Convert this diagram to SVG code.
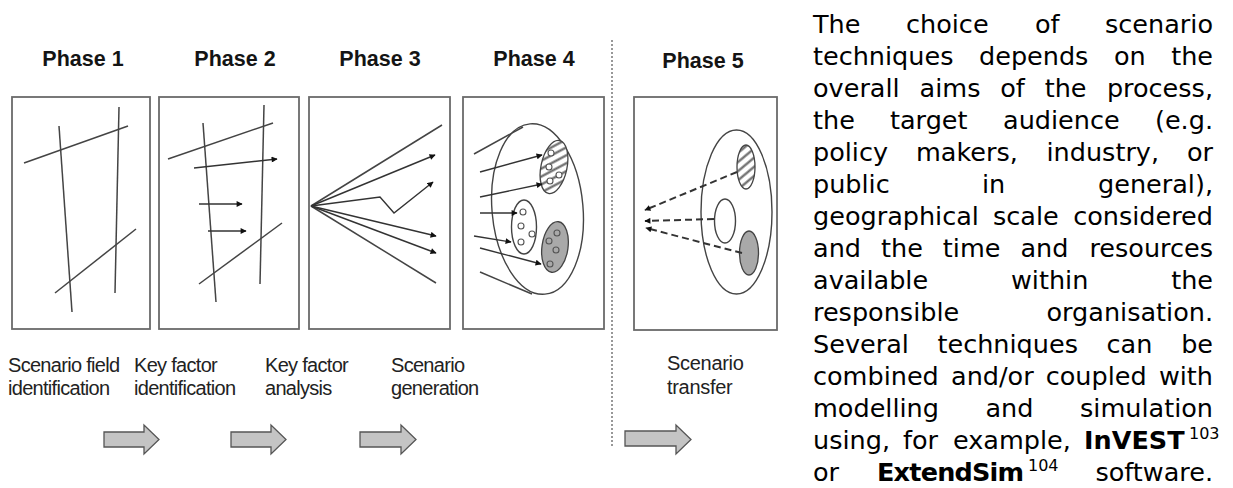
<svg xmlns="http://www.w3.org/2000/svg" width="1233" height="488" viewBox="0 0 1233 488">
<defs>
<style>
.box{fill:#fff;stroke:#6a6a6a;stroke-width:1.8}
.ln{fill:none;stroke:#444;stroke-width:1.5}
.ar{fill:none;stroke:#333;stroke-width:1.4;marker-end:url(#ah)}
.da{fill:none;stroke:#333;stroke-width:2;stroke-dasharray:7,4;marker-end:url(#ah)}
.el{fill:#fff;stroke:#444;stroke-width:1.4}
.sc{fill:none;stroke:#555;stroke-width:1.1}
.hd{font-family:"Liberation Sans",Arial,sans-serif;font-weight:bold;font-size:21.5px;fill:#141414;text-anchor:middle}
.lb{font-family:"Liberation Sans",Arial,sans-serif;font-size:20px;letter-spacing:-0.7px;fill:#222}
.blk{fill:#c4c4c4;stroke:#555;stroke-width:1.3}
.tx{font-family:"DejaVu Sans",Verdana,sans-serif;font-size:25.5px;fill:#000}
.e{text-anchor:end}
.b{font-weight:bold}
.sup{font-size:16px}
</style>
<marker id="ah" viewBox="0 0 10 10" refX="9" refY="5" markerWidth="7" markerHeight="6" markerUnits="userSpaceOnUse" orient="auto"><path d="M0,0L10,5L0,10z" fill="#111"/></marker>
<pattern id="hatch" width="7" height="7" patternUnits="userSpaceOnUse" patternTransform="rotate(-40)"><rect width="7" height="7" fill="#fff"/><line x1="0" y1="3.5" x2="7" y2="3.5" stroke="#666" stroke-width="2.2"/></pattern>
</defs>

<g id="phase1">
<text class="hd" x="83" y="66">Phase 1</text>
<rect class="box" x="12" y="97" width="138" height="232"/>
<line class="ln" x1="59" y1="126" x2="72" y2="312"/>
<line class="ln" x1="119" y1="107" x2="115" y2="293"/>
<line class="ln" x1="24" y1="163" x2="128" y2="126"/>
<line class="ln" x1="55" y1="293" x2="136" y2="229"/>
<text class="lb" x="8" y="372">Scenario field</text>
<text class="lb" x="8" y="395">identification</text>
</g>

<g id="phase2">
<text class="hd" x="235" y="66">Phase 2</text>
<rect class="box" x="159" y="97" width="140" height="232"/>
<line class="ln" x1="203" y1="123" x2="216" y2="302"/>
<line class="ln" x1="264" y1="105" x2="260" y2="284"/>
<line class="ln" x1="168" y1="159" x2="273" y2="123"/>
<line class="ln" x1="199" y1="284" x2="282" y2="223"/>
<text class="lb" x="134" y="372">Key factor</text>
<text class="lb" x="134" y="395">identification</text>
</g>

<g id="phase3">
<text class="hd" x="380" y="66">Phase 3</text>
<rect class="box" x="309" y="97" width="141" height="232"/>
<line class="ln" x1="311" y1="206" x2="442" y2="125"/>
<line class="ln" x1="311" y1="206" x2="436" y2="283"/>
<text class="lb" x="265" y="372">Key factor</text>
<text class="lb" x="265" y="395">analysis</text>
</g>

<g id="phase4">
<text class="hd" x="534" y="66">Phase 4</text>
<rect class="box" x="463" y="97" width="141" height="232"/>
<ellipse class="el" cx="537.5" cy="209" rx="45.5" ry="85.5" transform="rotate(-5 537.5 209)"/>
<ellipse cx="554" cy="167" rx="13" ry="27" transform="rotate(12 554 167)" fill="url(#hatch)" stroke="#444" stroke-width="1.3"/>
<ellipse class="el" cx="524" cy="227" rx="12.5" ry="27"/>
<ellipse cx="555" cy="247" rx="13" ry="25.5" transform="rotate(8 555 247)" fill="#a9a9a9" stroke="#444" stroke-width="1.3"/>
<g class="sc">
<circle cx="551" cy="153" r="3" fill="#fff"/><circle cx="549" cy="167" r="3" fill="#fff"/><circle cx="550" cy="181" r="3" fill="#fff"/><circle cx="559" cy="175" r="3" fill="#fff"/>
<circle cx="523" cy="212" r="3"/><circle cx="521" cy="226" r="3"/><circle cx="521" cy="242" r="3"/><circle cx="532" cy="234" r="3"/>
<circle cx="557" cy="233" r="3"/><circle cx="549" cy="241" r="3"/><circle cx="556" cy="250" r="3"/><circle cx="550" cy="264" r="3"/>
</g>
<line class="ln" x1="474" y1="154" x2="523" y2="127"/>
<line class="ln" x1="480" y1="272" x2="532" y2="294"/>
<text class="lb" x="391" y="372">Scenario</text>
<text class="lb" x="391" y="395">generation</text>
</g>

<g id="phase5">
<text class="hd" x="703" y="68">Phase 5</text>
<rect class="box" x="634" y="97" width="143" height="233"/>
<ellipse class="el" cx="736.5" cy="212" rx="35.5" ry="82"/>
<ellipse cx="746" cy="167" rx="9" ry="22" fill="url(#hatch)" stroke="#444" stroke-width="1.3"/>
<ellipse class="el" cx="725" cy="221" rx="10.5" ry="22"/>
<ellipse cx="749" cy="253" rx="9.5" ry="22" fill="#a9a9a9" stroke="#444" stroke-width="1.3"/>
<text class="lb" x="667" y="370" style="letter-spacing:-0.3px">Scenario</text>
<text class="lb" x="667" y="394" style="letter-spacing:-0.3px">transfer</text>
</g>

<g id="connectors">
<path class="ar" d="M194,168L277,159"/>
<path class="ar" d="M199,204L242,204"/>
<path class="ar" d="M208,231L246,231"/>
<path class="ar" d="M311,206L435,155"/>
<path class="ar" d="M311,206L380,197L394,213L433,182"/>
<path class="ar" d="M311,206L436,236"/>
<path class="ar" d="M311,206L436,253"/>
<path class="ar" d="M480,172L542,155"/>
<path class="ar" d="M480,197L542,184"/>
<path class="ar" d="M480,213L517,213"/>
<path class="ar" d="M474,236L511,242"/>
<path class="ar" d="M480,248L541,264"/>
<path class="da" d="M737,172L645,210"/>
<path class="da" d="M714,219L645,221"/>
<path class="da" d="M742,253L646,228"/>
<line x1="612" y1="40" x2="612" y2="447" stroke="#777" stroke-width="1.5" stroke-dasharray="2,2"/>
<polygon class="blk" points="104,432 144,432 144,425 159,439.5 144,454 144,447 104,447"/>
<polygon class="blk" points="231,432 271,432 271,425 286,439.5 271,454 271,447 231,447"/>
<polygon class="blk" points="360,432 401,432 401,425 416,439.5 401,454 401,447 360,447"/>
<polygon class="blk" points="625,431 676,431 676,425 691,439.5 676,454 676,446 625,446"/>
</g>

<g id="paragraph" class="tx">
<text y="33"><tspan x="813">The</tspan><tspan x="906">choice</tspan><tspan x="1035">of</tspan></text><text class="e" x="1213" y="33">scenario</text>
<text y="65"><tspan x="813">techniques</tspan><tspan x="979">depends</tspan><tspan x="1114">on</tspan></text><text class="e" x="1213" y="65">the</text>
<text y="97"><tspan x="813">overall</tspan><tspan x="919.6">aims</tspan><tspan x="1000.2">of</tspan><tspan x="1044.7">the</tspan></text><text class="e" x="1213" y="97">process,</text>
<text y="129"><tspan x="813">the</tspan><tspan x="890">target</tspan><tspan x="1003">audience</tspan></text><text class="e" x="1213" y="129">(e.g.</text>
<text y="161"><tspan x="813">policy</tspan><tspan x="916">makers,</tspan><tspan x="1046.5">industry,</tspan></text><text class="e" x="1213" y="161">or</text>
<text y="193"><tspan x="813">public</tspan><tspan x="982">in</tspan></text><text class="e" x="1213" y="193">general),</text>
<text y="225"><tspan x="813">geographical</tspan><tspan x="993">scale</tspan></text><text class="e" x="1213" y="225">considered</text>
<text y="257"><tspan x="813">and</tspan><tspan x="881">the</tspan><tspan x="942.8">time</tspan><tspan x="1020.4">and</tspan></text><text class="e" x="1213" y="257">resources</text>
<text y="289"><tspan x="813">available</tspan><tspan x="1011">within</tspan></text><text class="e" x="1213" y="289">the</text>
<text y="321"><tspan x="813">responsible</tspan></text><text class="e" x="1213" y="321">organisation.</text>
<text y="353"><tspan x="813">Several</tspan><tspan x="937.5">techniques</tspan><tspan x="1106.6">can</tspan></text><text class="e" x="1213" y="353">be</text>
<text y="385"><tspan x="813">combined</tspan><tspan x="951">and/or</tspan><tspan x="1045.7">coupled</tspan></text><text class="e" x="1213" y="385">with</text>
<text y="417"><tspan x="813">modelling</tspan><tspan x="985.4">and</tspan></text><text class="e" x="1213" y="417">simulation</text>
<text y="449"><tspan x="813">using,</tspan><tspan x="903">for</tspan><tspan x="953">example,</tspan><tspan x="1084" class="b">InVEST</tspan></text><text class="sup" x="1189" y="439">103</text>
<text y="481"><tspan x="813">or</tspan><tspan x="877" class="b" style="letter-spacing:-0.8px">ExtendSim</tspan></text><text class="sup" x="1028" y="471">104</text><text class="e" x="1213" y="481">software.</text>
</g>
</svg>
